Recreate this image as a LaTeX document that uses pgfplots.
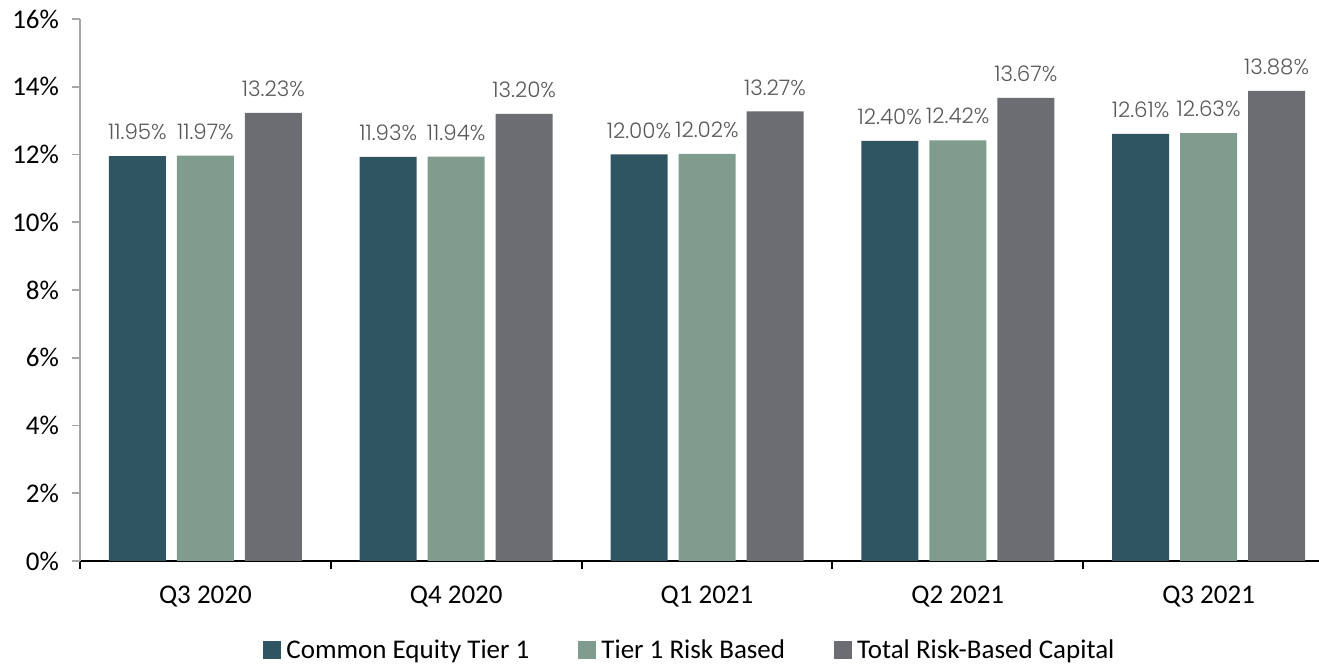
\documentclass[border=0pt]{standalone}
\usepackage{pgfplots}
\pgfplotsset{compat=1.18}
\usepackage{fontspec}
\setmainfont{Carlito}
\newfontfamily\pop{Poppins Light}
\definecolor{cetone}{HTML}{2F5563}
\definecolor{tierone}{HTML}{7F9C8F}
\definecolor{totrb}{HTML}{6C6D72}
\definecolor{lblgray}{HTML}{595959}
\begin{document}
\begin{tikzpicture}
\begin{axis}[
  scale only axis,
  width=627pt, height=271pt,
  anchor=south west, at={(0,0)},
  /pgf/number format/assume math mode=true,
  ybar=5.5pt, bar width=28.5pt,
  xmin=-0.5, xmax=4.5, ymin=0, ymax=16,
  axis x line*=bottom, axis y line*=left,
  x axis line style={black, line width=1.1pt, -},
  y axis line style={black!35, line width=0.8pt, -},
  xtick={-0.5,0.5,...,4.5},
  x tick label as interval,
  xticklabels={Q3 2020,Q4 2020,Q1 2021,Q2 2021,Q3 2021},
  ytick={0,2,...,16},
  yticklabel={\pgfmathprintnumber{\tick}\%},
  tick align=outside,
  major tick length=4pt,
  xtick style={black, line width=1pt},
  ytick style={black!35, line width=0.8pt},
  tick label style={font=\fontsize{13.5}{16}\selectfont, black},
  xticklabel style={yshift=-5pt},
  yticklabel style={xshift=-3pt},
  nodes near coords={\pgfmathprintnumber[fixed,fixed zerofill,precision=2]{\pgfplotspointmeta}\%},
  nodes near coords style={font=\pop\fontsize{10.7}{12}\selectfont, text=lblgray, anchor=south, yshift=4.5pt},
  legend style={at={(axis description cs:0.4876,0)}, anchor=center, yshift=-45pt,
    draw=none, legend columns=-1, font=\fontsize{13.5}{16}\selectfont,
    /tikz/every even column/.append style={column sep=22pt},
    /tikz/every odd column/.append style={column sep=0pt},
    nodes={inner xsep=2.5pt}},
  legend image code/.code={\fill[#1] (0pt,-4pt) rectangle (9pt,5pt);},
]
\addplot[fill=cetone, draw=none] coordinates {(0,11.95) (1,11.93) (2,12.00) (3,12.40) (4,12.61)};
\addplot[fill=tierone, draw=none] coordinates {(0,11.97) (1,11.94) (2,12.02) (3,12.42) (4,12.63)};
\addplot[fill=totrb, draw=none] coordinates {(0,13.23) (1,13.20) (2,13.27) (3,13.67) (4,13.88)};
\legend{Common Equity Tier 1, Tier 1 Risk Based, Total Risk-Based Capital}
\end{axis}
\pgfresetboundingbox
\path[use as bounding box] (-40pt,-53pt) rectangle (619.5pt,280.5pt);
\end{tikzpicture}
\end{document}
